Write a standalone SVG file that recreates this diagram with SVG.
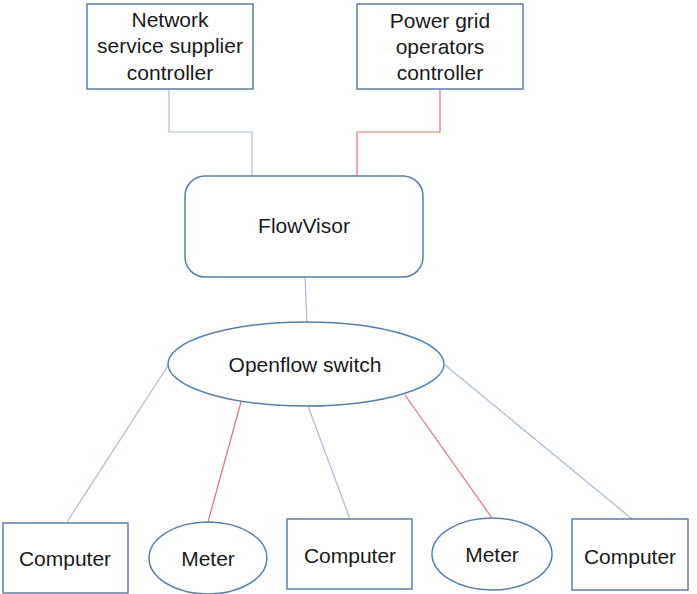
<svg xmlns="http://www.w3.org/2000/svg" width="697" height="594" viewBox="0 0 697 594">
  <style>
    .shape { fill: #ffffff; stroke: #5b7ea6; stroke-width: 1.5; }
    .lbl { font-family: "Liberation Sans", Arial, sans-serif; font-size: 21px; fill: #1a1a1a; text-anchor: middle; }
    .wire { fill: none; stroke: #a9bbd4; stroke-width: 1.2; }
    .wire-red { fill: none; stroke: #e5707a; stroke-width: 1.2; }
  </style>
  <rect width="697" height="594" fill="#ffffff"/>

  <g id="connectors">
    <polyline class="wire" points="169,89 169,132 252,132 252,176"/>
    <polyline class="wire-red" points="440,89 440,132 357,132 357,176"/>
    <line class="wire" x1="305" y1="277" x2="307" y2="322"/>
    <line class="wire" x1="169" y1="364" x2="67" y2="522"/>
    <line class="wire-red" x1="241" y1="402" x2="208" y2="522"/>
    <line class="wire" x1="308" y1="406" x2="350" y2="519"/>
    <line class="wire-red" x1="405" y1="395" x2="492" y2="518"/>
    <line class="wire" x1="445" y1="365" x2="632" y2="519"/>
  </g>

  <g id="network-controller">
    <rect class="shape" x="87" y="4" width="166" height="85"/>
    <text class="lbl" x="170" y="27">Network</text>
    <text class="lbl" x="170" y="53">service supplier</text>
    <text class="lbl" x="170" y="80">controller</text>
  </g>

  <g id="power-controller">
    <rect class="shape" x="357" y="4" width="166" height="85"/>
    <text class="lbl" x="440" y="28">Power grid</text>
    <text class="lbl" x="440" y="54">operators</text>
    <text class="lbl" x="440" y="80">controller</text>
  </g>

  <g id="flowvisor">
    <rect class="shape" x="185" y="176" width="238" height="101" rx="20" ry="20"/>
    <text class="lbl" x="304" y="233">FlowVisor</text>
  </g>

  <g id="openflow-switch">
    <ellipse class="shape" cx="306" cy="364" rx="138" ry="42"/>
    <text class="lbl" x="305" y="372">Openflow switch</text>
  </g>

  <g id="computer-1">
    <rect class="shape" x="3" y="523" width="125" height="70"/>
    <text class="lbl" x="65" y="566">Computer</text>
  </g>

  <g id="meter-1">
    <ellipse class="shape" cx="208" cy="558" rx="59" ry="36"/>
    <text class="lbl" x="208" y="566">Meter</text>
  </g>

  <g id="computer-2">
    <rect class="shape" x="287" y="519" width="125" height="70"/>
    <text class="lbl" x="350" y="563">Computer</text>
  </g>

  <g id="meter-2">
    <ellipse class="shape" cx="492" cy="554" rx="60" ry="36"/>
    <text class="lbl" x="492" y="562">Meter</text>
  </g>

  <g id="computer-3">
    <rect class="shape" x="572" y="519" width="116" height="71"/>
    <text class="lbl" x="630" y="564">Computer</text>
  </g>
</svg>
